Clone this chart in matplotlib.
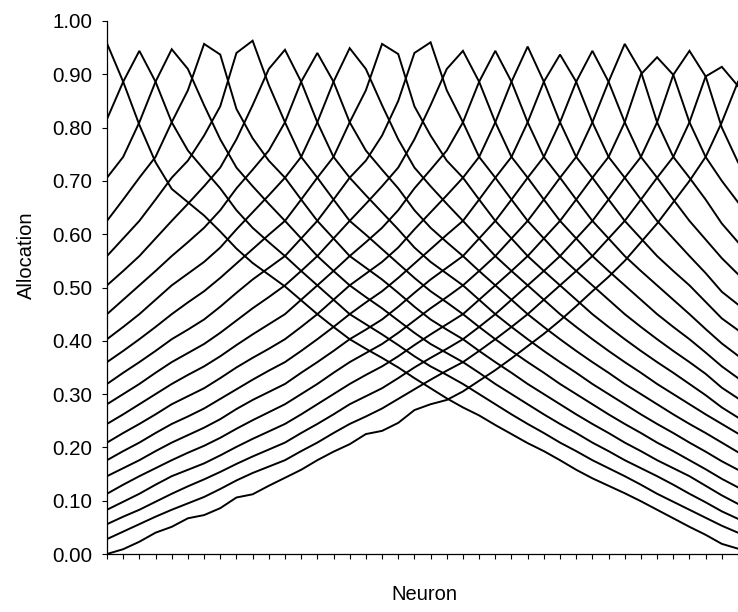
import matplotlib
matplotlib.use("Agg")
import matplotlib.pyplot as plt

# --- dados (alocação de cada neurônio, uma série por padrão) ---
neurons = list(range(40))

serie_00 = [.958, .886, .805, .735, .685, .66, .635, .605, .573, .546, .524, .502, .476, .45, .426, .403, .385, .368, .35, .33,
            .311, .292, .275, .26, .242, .225, .208, .193, .176, .158, .142, .128, .114, .099, .083, .067, .051, .036, .019, .01]
serie_01 = [.816, .886, .944, .886, .81, .757, .721, .686, .645, .612, .585, .559, .531, .504, .477, .45, .431, .412, .392, .371,
            .352, .336, .319, .3, .281, .262, .244, .227, .209, .193, .176, .161, .146, .13, .113, .098, .083, .068, .053, .04]
serie_02 = [.706, .745, .81, .886, .947, .91, .842, .778, .725, .69, .657, .625, .592, .559, .531, .504, .482, .461, .438, .415,
            .394, .377, .36, .34, .319, .3, .281, .262, .244, .227, .209, .193, .176, .161, .146, .13, .113, .097, .08, .066]
serie_03 = [.625, .665, .706, .745, .81, .87, .957, .937, .835, .78, .738, .706, .665, .625, .592, .559, .537, .515, .49, .464,
            .44, .421, .403, .381, .36, .34, .319, .3, .281, .262, .244, .227, .209, .193, .176, .161, .146, .128, .11, .094]
serie_04 = [.559, .592, .625, .665, .706, .738, .785, .84, .94, .963, .88, .81, .745, .706, .665, .625, .599, .572, .545, .518,
            .493, .472, .45, .426, .403, .381, .36, .34, .319, .3, .281, .262, .244, .227, .209, .193, .176, .159, .141, .125]
serie_05 = [.504, .531, .559, .592, .625, .657, .69, .725, .778, .842, .91, .946, .886, .81, .745, .706, .673, .641, .609, .575,
            .548, .526, .504, .477, .45, .426, .403, .381, .36, .34, .319, .3, .281, .262, .244, .227, .209, .192, .174, .158]
serie_06 = [.45, .477, .504, .531, .559, .585, .612, .645, .686, .721, .757, .81, .886, .94, .886, .81, .757, .721, .686, .645,
            .612, .585, .559, .531, .504, .477, .45, .426, .403, .381, .36, .34, .319, .3, .281, .262, .244, .227, .209, .191]
serie_07 = [.403, .426, .45, .477, .504, .526, .548, .575, .609, .641, .673, .706, .745, .81, .886, .949, .91, .842, .778, .725,
            .69, .657, .625, .592, .559, .531, .504, .477, .45, .426, .403, .381, .36, .34, .319, .3, .281, .262, .244, .226]
serie_08 = [.36, .381, .403, .426, .45, .472, .493, .518, .545, .572, .599, .625, .665, .706, .745, .81, .87, .957, .938, .84,
            .785, .738, .706, .665, .625, .592, .559, .531, .504, .477, .45, .426, .403, .381, .36, .34, .319, .298, .275, .256]
serie_09 = [.319, .34, .36, .381, .403, .421, .44, .464, .49, .515, .537, .559, .592, .625, .665, .706, .738, .785, .85, .94,
            .96, .87, .81, .745, .706, .665, .625, .592, .559, .531, .504, .477, .45, .426, .403, .381, .36, .338, .312, .292]
serie_10 = [.281, .3, .319, .34, .36, .377, .394, .415, .438, .461, .482, .504, .531, .559, .592, .625, .657, .69, .725, .778,
            .842, .91, .944, .886, .81, .745, .706, .665, .625, .592, .559, .531, .504, .477, .45, .426, .403, .378, .352, .33]
serie_11 = [.244, .262, .281, .3, .319, .336, .352, .371, .392, .412, .431, .45, .477, .504, .531, .559, .585, .612, .645, .686,
            .721, .757, .81, .886, .944, .886, .81, .745, .706, .665, .625, .592, .559, .531, .504, .477, .45, .422, .395, .372]
serie_12 = [.209, .227, .244, .262, .281, .296, .311, .33, .35, .368, .385, .403, .426, .45, .477, .504, .526, .548, .575, .609,
            .641, .673, .706, .745, .81, .886, .952, .886, .81, .745, .706, .665, .625, .592, .559, .531, .504, .473, .442, .42]
serie_13 = [.176, .193, .209, .227, .244, .258, .273, .291, .309, .327, .344, .36, .381, .403, .426, .45, .472, .493, .518, .545,
            .572, .599, .625, .665, .706, .745, .81, .886, .937, .886, .81, .745, .706, .665, .625, .592, .559, .527, .492, .468]
serie_14 = [.146, .161, .176, .193, .209, .223, .237, .253, .272, .289, .304, .319, .34, .36, .381, .403, .421, .44, .464, .49,
            .515, .537, .559, .592, .625, .665, .706, .745, .81, .886, .944, .886, .81, .745, .706, .665, .625, .59, .555, .525]
serie_15 = [.113, .13, .146, .161, .176, .19, .203, .218, .235, .251, .266, .281, .3, .319, .34, .36, .377, .394, .415, .438,
            .461, .482, .504, .531, .559, .592, .625, .665, .706, .745, .81, .886, .957, .905, .81, .745, .706, .665, .62, .585]
serie_16 = [.083, .098, .113, .13, .146, .158, .17, .185, .201, .216, .23, .244, .262, .281, .3, .319, .336, .352, .371, .392,
            .412, .431, .45, .477, .504, .531, .559, .592, .625, .665, .706, .745, .81, .9, .932, .899, .81, .745, .7, .66]
serie_17 = [.056, .07, .083, .098, .113, .127, .14, .154, .169, .183, .196, .209, .227, .244, .262, .281, .296, .311, .33, .35,
            .368, .385, .403, .426, .45, .477, .504, .531, .559, .592, .625, .665, .706, .745, .81, .899, .944, .896, .8, .735]
serie_18 = [.028, .042, .056, .07, .083, .095, .107, .122, .138, .152, .164, .176, .193, .209, .227, .244, .258, .273, .291, .309,
            .327, .344, .36, .381, .403, .426, .45, .477, .504, .531, .559, .592, .625, .665, .706, .745, .81, .896, .914, .878]
serie_19 = [0.0, .009, .023, .04, .051, .067, .073, .086, .106, .112, .128, .143, .158, .176, .192, .206, .225, .231, .246, .27,
            .281, .289, .305, .325, .345, .367, .39, .413, .438, .465, .493, .52, .55, .585, .62, .66, .7, .745, .81, .886]

series = [serie_00, serie_01, serie_02, serie_03, serie_04, serie_05, serie_06, serie_07, serie_08, serie_09,
          serie_10, serie_11, serie_12, serie_13, serie_14, serie_15, serie_16, serie_17, serie_18, serie_19]

y_ticks = [0.0, 0.1, 0.2, 0.3, 0.4, 0.5, 0.6, 0.7, 0.8, 0.9, 1.0]

# --- figura ---
W, H = 738, 612
fig = plt.figure(figsize=(W / 100, H / 100), dpi=100)
plt.rcParams['font.family'] = ['Liberation Sans', 'DejaVu Sans']

# área de plotagem em pixels (esquerda, base, direita, topo)
x0, y_base, x1, y_top = 107, 554, 738, 21
ax = fig.add_axes([x0 / W, (H - y_base) / H, (x1 - x0) / W, (y_base - y_top) / H])

for s in series:
    ax.plot(neurons, s, color='black', linewidth=1.4, solid_joinstyle='miter')

ax.set_xlim(0, (x1 - x0) / 16.25)
ax.set_ylim(0, 1)

ax.spines['top'].set_visible(False)
ax.spines['right'].set_visible(False)
for sp in ('left', 'bottom'):
    ax.spines[sp].set_linewidth(0.9)
    ax.spines[sp].set_color('black')

ax.set_xticks(neurons)
ax.set_xticklabels([])
ax.set_yticks(y_ticks)
ax.set_yticklabels([f"{v:.2f}" for v in y_ticks])
ax.tick_params(axis='both', direction='out', length=3.6, width=0.8, color='black')
ax.tick_params(axis='y', labelsize=14.8, pad=7)

fig.text(26 / W, 1 - 255 / H, "Allocation", rotation=90, ha='center', va='center', fontsize=14.5)
fig.text(424 / W, 1 - 594 / H, "Neuron", ha='center', va='center', fontsize=14.5)

fig.savefig("out.png", dpi=100)
